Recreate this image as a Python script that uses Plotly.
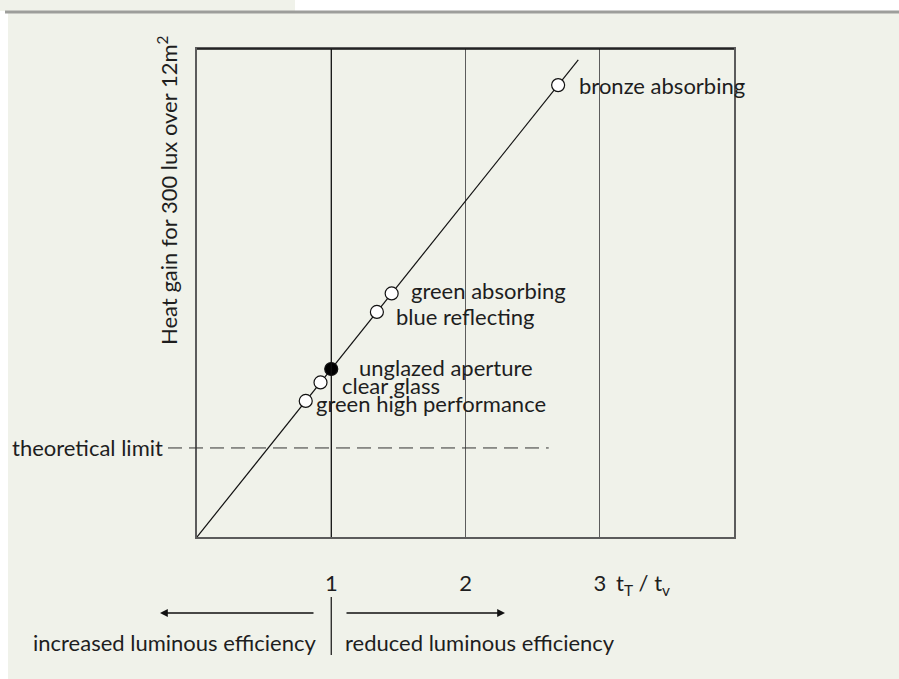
import plotly.graph_objects as go

# ---- data ----
glazings = ["bronze absorbing", "green absorbing", "blue reflecting",
            "unglazed aperture", "clear glass", "green high performance"]
ratio_tt_tv = [2.69, 1.45, 1.34, 1.00, 0.92, 0.81]
heat_gain = [2.69, 1.45, 1.34, 1.00, 0.92, 0.81]
filled = [False, False, False, True, False, False]
line_x = [0.0, 2.84]
line_y = [0.0, 2.84]
theoretical_limit = 0.53
limit_end_x = 2.62
x_ticks = [1, 2, 3]
x_tick_text = ["1", "2", "3"]
x_range = [0, 4]
y_range = [0, 2.905]

# label pixel offsets (style)
label_shift = [(19, 0), (17, 3), (17, -5), (26, 2), (19, -3), (8, -3)]

FONT = "Lato, 'Open Sans', sans-serif"
FS = 22
TXT = "#1e1e1e"
BG = "#F0F2EA"
GREY = "#5c5c5c"

fig = go.Figure()

fig.add_trace(go.Scatter(x=line_x, y=line_y, mode="lines",
                         line=dict(color="#111", width=1.2),
                         hoverinfo="skip", showlegend=False))
fig.add_trace(go.Scatter(
    x=ratio_tt_tv, y=heat_gain, mode="markers",
    marker=dict(size=13, color=["#000" if f else "#fff" for f in filled],
                line=dict(color="#111", width=1.2)),
    text=glazings, showlegend=False, cliponaxis=False))

for name, xv, yv, (dx, dy) in zip(glazings, ratio_tt_tv, heat_gain, label_shift):
    fig.add_annotation(x=xv, y=yv, text=name, showarrow=False,
                       xanchor="left", yanchor="middle", xshift=dx, yshift=dy,
                       font=dict(family=FONT, size=FS, color=TXT))

def px_x(p):
    return (p - 197) / 537.0

def px_y(p):
    return (537 - p) / 488.0

shapes = [
    # light panel and header
    dict(type="rect", xref="paper", yref="paper", x0=px_x(8), x1=px_x(899),
         y0=px_y(679), y1=px_y(13), fillcolor=BG, line=dict(width=0), layer="below"),
    dict(type="rect", xref="paper", yref="paper", x0=px_x(0), x1=px_x(295),
         y0=px_y(11), y1=px_y(0), fillcolor=BG, line=dict(width=0), layer="below"),
    dict(type="line", xref="paper", yref="paper", x0=px_x(5), x1=px_x(899),
         y0=px_y(12), y1=px_y(12), line=dict(color="#9d9e9b", width=3), layer="below"),
    # top frame black
    dict(type="line", xref="paper", yref="paper", x0=0, x1=1, y0=1, y1=1,
         line=dict(color="#111", width=1.5)),
    # black line at x = 1
    dict(type="line", xref="x", yref="paper", x0=1, x1=1, y0=0, y1=1,
         line=dict(color="#111", width=1.2)),
    # theoretical limit dashed
    dict(type="line", xref="paper", yref="paper",
         x0=px_x(168), x1=limit_end_x / x_range[1],
         y0=theoretical_limit / y_range[1], y1=theoretical_limit / y_range[1],
         line=dict(color="#333", width=1, dash="14px,7px")),
    # separator below axis at x = 1
    dict(type="line", xref="paper", yref="paper", x0=1 / x_range[1], x1=1 / x_range[1],
         y0=px_y(597), y1=px_y(655), line=dict(color="#111", width=1.2)),
]
fig.update_layout(shapes=shapes)

fig.add_annotation(xref="paper", yref="paper", x=px_x(165),
                   y=theoretical_limit / y_range[1], text="theoretical limit",
                   showarrow=False, xanchor="right", yanchor="middle",
                   font=dict(family=FONT, size=FS, color=TXT))

fig.add_annotation(xref="paper", yref="paper", x=px_x(168), y=px_y(190),
                   text="Heat gain for 300 lux over 12m<sup>2</sup>", textangle=-90,
                   showarrow=False, xanchor="center", yanchor="middle",
                   font=dict(family=FONT, size=FS, color=TXT))

fig.add_annotation(xref="paper", yref="paper", x=px_x(614), y=px_y(584),
                   text="t<sub>T</sub> / t<sub>v</sub>", showarrow=False,
                   xanchor="left", yanchor="middle",
                   font=dict(family=FONT, size=FS, color=TXT))

# arrows
fig.add_annotation(xref="paper", yref="paper", x=px_x(160), y=px_y(613),
                   ax=155, ay=0, axref="pixel", ayref="pixel", text="",
                   showarrow=True, arrowhead=2, arrowsize=1.2, arrowwidth=1.3,
                   arrowcolor="#111")
fig.add_annotation(xref="paper", yref="paper", x=px_x(505), y=px_y(613),
                   ax=-160, ay=0, axref="pixel", ayref="pixel", text="",
                   showarrow=True, arrowhead=2, arrowsize=1.2, arrowwidth=1.3,
                   arrowcolor="#111")
fig.add_annotation(xref="paper", yref="paper", x=px_x(318), y=px_y(642),
                   text="increased luminous efficiency", showarrow=False,
                   xanchor="right", yanchor="middle",
                   font=dict(family=FONT, size=FS, color=TXT))
fig.add_annotation(xref="paper", yref="paper", x=px_x(343), y=px_y(642),
                   text="reduced luminous efficiency", showarrow=False,
                   xanchor="left", yanchor="middle",
                   font=dict(family=FONT, size=FS, color=TXT))

fig.update_xaxes(range=x_range, tickvals=x_ticks, ticktext=x_tick_text,
                 showgrid=True, gridcolor=GREY, gridwidth=1.2, zeroline=False,
                 showline=True, linecolor=GREY, linewidth=1.5, mirror=True,
                 ticks="", ticklabelstandoff=26,
                 tickfont=dict(family=FONT, size=FS, color=TXT))
fig.update_yaxes(range=y_range, showgrid=False, zeroline=False,
                 showline=True, linecolor=GREY, linewidth=1.5, mirror=True,
                 showticklabels=False, ticks="")

fig.update_layout(width=899, height=679, paper_bgcolor="#ffffff", plot_bgcolor=BG,
                  margin=dict(l=197, r=165, t=49, b=142), showlegend=False,
                  font=dict(family=FONT, size=FS, color=TXT))

fig.write_html("out.html", config={"displayModeBar": False},
               post_script="document.body.style.margin='0';document.body.style.overflow='hidden';")
